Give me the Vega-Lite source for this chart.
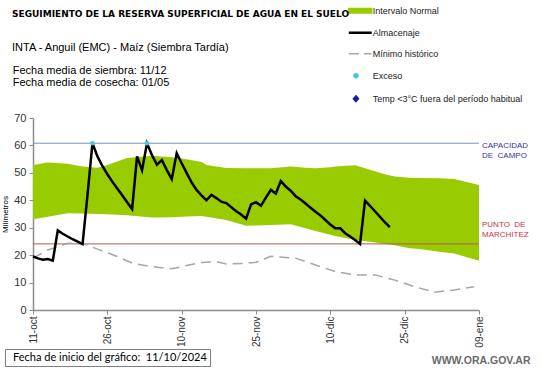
{
  "$schema": "https://vega.github.io/schema/vega-lite/v6.json",
  "width": 446,
  "height": 192,
  "autosize": {"type": "none"},
  "padding": {"left": 33, "top": 118, "right": 62, "bottom": 58},
  "background": "white",
  "config": {
    "view": {"stroke": null},
    "font": "Liberation Sans",
    "axisY": {
      "tickCount": 8,
      "labelOverlap": false,
      "labelFontSize": 11,
      "labelColor": "#333333",
      "labelPadding": 3,
      "domainColor": "#8c8c8c",
      "domainWidth": 1.5,
      "tickColor": "#8c8c8c",
      "tickSize": 4,
      "grid": false,
      "titleFontSize": 8,
      "titleFontWeight": "normal",
      "titleColor": "#000000",
      "titlePadding": 4
    }
  },
  "title": {
    "text": "SEGUIMIENTO DE LA RESERVA SUPERFICIAL DE AGUA EN EL SUELO",
    "subtitle": "INTA - Anguil (EMC) - Maíz (Siembra Tardía)",
    "anchor": "start",
    "frame": "group",
    "dx": -21,
    "offset": -47,
    "font": "DejaVu Sans",
    "fontSize": 9,
    "fontWeight": "bold",
    "color": "#000000",
    "subtitleFont": "Liberation Sans",
    "subtitleFontSize": 11,
    "subtitleColor": "#000000",
    "subtitlePadding": 23
  },
  "datasets": {
    "band": [
      {"date": "2024-10-11", "lower": 33.1, "upper": 52.9, "serie": "Intervalo Normal"},
      {"date": "2024-10-14", "lower": 34.0, "upper": 53.8, "serie": "Intervalo Normal"},
      {"date": "2024-10-18", "lower": 35.3, "upper": 53.3, "serie": "Intervalo Normal"},
      {"date": "2024-10-21", "lower": 35.2, "upper": 52.3, "serie": "Intervalo Normal"},
      {"date": "2024-10-24", "lower": 35.0, "upper": 51.9, "serie": "Intervalo Normal"},
      {"date": "2024-10-26", "lower": 34.9, "upper": 52.9, "serie": "Intervalo Normal"},
      {"date": "2024-10-30", "lower": 34.5, "upper": 55.4, "serie": "Intervalo Normal"},
      {"date": "2024-11-04", "lower": 33.7, "upper": 56.2, "serie": "Intervalo Normal"},
      {"date": "2024-11-08", "lower": 33.8, "upper": 55.7, "serie": "Intervalo Normal"},
      {"date": "2024-11-11", "lower": 34.1, "upper": 55.0, "serie": "Intervalo Normal"},
      {"date": "2024-11-14", "lower": 34.3, "upper": 54.0, "serie": "Intervalo Normal"},
      {"date": "2024-11-15", "lower": 34.0, "upper": 52.9, "serie": "Intervalo Normal"},
      {"date": "2024-11-19", "lower": 32.8, "upper": 51.8, "serie": "Intervalo Normal"},
      {"date": "2024-11-23", "lower": 30.7, "upper": 51.7, "serie": "Intervalo Normal"},
      {"date": "2024-11-28", "lower": 31.0, "upper": 51.7, "serie": "Intervalo Normal"},
      {"date": "2024-12-02", "lower": 31.3, "upper": 52.3, "serie": "Intervalo Normal"},
      {"date": "2024-12-05", "lower": 29.8, "upper": 51.9, "serie": "Intervalo Normal"},
      {"date": "2024-12-07", "lower": 28.8, "upper": 51.7, "serie": "Intervalo Normal"},
      {"date": "2024-12-10", "lower": 27.4, "upper": 52.0, "serie": "Intervalo Normal"},
      {"date": "2024-12-11", "lower": 27.0, "upper": 52.3, "serie": "Intervalo Normal"},
      {"date": "2024-12-15", "lower": 25.5, "upper": 52.8, "serie": "Intervalo Normal"},
      {"date": "2024-12-18", "lower": 24.9, "upper": 51.1, "serie": "Intervalo Normal"},
      {"date": "2024-12-21", "lower": 24.1, "upper": 49.5, "serie": "Intervalo Normal"},
      {"date": "2024-12-23", "lower": 23.6, "upper": 48.7, "serie": "Intervalo Normal"},
      {"date": "2024-12-26", "lower": 22.5, "upper": 48.2, "serie": "Intervalo Normal"},
      {"date": "2024-12-28", "lower": 22.2, "upper": 48.1, "serie": "Intervalo Normal"},
      {"date": "2025-01-01", "lower": 21.2, "upper": 48.0, "serie": "Intervalo Normal"},
      {"date": "2025-01-04", "lower": 20.6, "upper": 47.8, "serie": "Intervalo Normal"},
      {"date": "2025-01-09", "lower": 18.0, "upper": 45.6, "serie": "Intervalo Normal"}
    ],
    "alm": [
      {"date": "2024-10-11", "value": 19.5, "serie": "Almacenaje"},
      {"date": "2024-10-12", "value": 18.8, "serie": "Almacenaje"},
      {"date": "2024-10-13", "value": 18.3, "serie": "Almacenaje"},
      {"date": "2024-10-14", "value": 18.6, "serie": "Almacenaje"},
      {"date": "2024-10-15", "value": 18.0, "serie": "Almacenaje"},
      {"date": "2024-10-16", "value": 29.0, "serie": "Almacenaje"},
      {"date": "2024-10-17", "value": 27.8, "serie": "Almacenaje"},
      {"date": "2024-10-18", "value": 26.8, "serie": "Almacenaje"},
      {"date": "2024-10-19", "value": 25.8, "serie": "Almacenaje"},
      {"date": "2024-10-20", "value": 24.9, "serie": "Almacenaje"},
      {"date": "2024-10-21", "value": 24.0, "serie": "Almacenaje"},
      {"date": "2024-10-22", "value": 42.0, "serie": "Almacenaje"},
      {"date": "2024-10-23", "value": 60.8, "serie": "Almacenaje"},
      {"date": "2024-10-24", "value": 56.0, "serie": "Almacenaje"},
      {"date": "2024-10-25", "value": 52.5, "serie": "Almacenaje"},
      {"date": "2024-10-26", "value": 49.5, "serie": "Almacenaje"},
      {"date": "2024-10-27", "value": 46.8, "serie": "Almacenaje"},
      {"date": "2024-10-28", "value": 44.3, "serie": "Almacenaje"},
      {"date": "2024-10-29", "value": 41.8, "serie": "Almacenaje"},
      {"date": "2024-10-30", "value": 39.3, "serie": "Almacenaje"},
      {"date": "2024-10-31", "value": 36.8, "serie": "Almacenaje"},
      {"date": "2024-11-01", "value": 56.0, "serie": "Almacenaje"},
      {"date": "2024-11-02", "value": 51.0, "serie": "Almacenaje"},
      {"date": "2024-11-03", "value": 60.8, "serie": "Almacenaje"},
      {"date": "2024-11-04", "value": 56.5, "serie": "Almacenaje"},
      {"date": "2024-11-05", "value": 53.0, "serie": "Almacenaje"},
      {"date": "2024-11-06", "value": 54.7, "serie": "Almacenaje"},
      {"date": "2024-11-07", "value": 51.0, "serie": "Almacenaje"},
      {"date": "2024-11-08", "value": 47.7, "serie": "Almacenaje"},
      {"date": "2024-11-09", "value": 57.2, "serie": "Almacenaje"},
      {"date": "2024-11-10", "value": 53.5, "serie": "Almacenaje"},
      {"date": "2024-11-11", "value": 50.0, "serie": "Almacenaje"},
      {"date": "2024-11-12", "value": 46.5, "serie": "Almacenaje"},
      {"date": "2024-11-13", "value": 43.8, "serie": "Almacenaje"},
      {"date": "2024-11-14", "value": 41.8, "serie": "Almacenaje"},
      {"date": "2024-11-15", "value": 40.0, "serie": "Almacenaje"},
      {"date": "2024-11-16", "value": 42.0, "serie": "Almacenaje"},
      {"date": "2024-11-17", "value": 40.8, "serie": "Almacenaje"},
      {"date": "2024-11-18", "value": 39.5, "serie": "Almacenaje"},
      {"date": "2024-11-19", "value": 39.0, "serie": "Almacenaje"},
      {"date": "2024-11-20", "value": 37.5, "serie": "Almacenaje"},
      {"date": "2024-11-21", "value": 36.0, "serie": "Almacenaje"},
      {"date": "2024-11-22", "value": 34.8, "serie": "Almacenaje"},
      {"date": "2024-11-23", "value": 33.3, "serie": "Almacenaje"},
      {"date": "2024-11-24", "value": 38.5, "serie": "Almacenaje"},
      {"date": "2024-11-25", "value": 39.3, "serie": "Almacenaje"},
      {"date": "2024-11-26", "value": 38.0, "serie": "Almacenaje"},
      {"date": "2024-11-27", "value": 41.0, "serie": "Almacenaje"},
      {"date": "2024-11-28", "value": 43.8, "serie": "Almacenaje"},
      {"date": "2024-11-29", "value": 42.5, "serie": "Almacenaje"},
      {"date": "2024-11-30", "value": 47.0, "serie": "Almacenaje"},
      {"date": "2024-12-01", "value": 45.0, "serie": "Almacenaje"},
      {"date": "2024-12-02", "value": 43.5, "serie": "Almacenaje"},
      {"date": "2024-12-03", "value": 41.5, "serie": "Almacenaje"},
      {"date": "2024-12-04", "value": 40.3, "serie": "Almacenaje"},
      {"date": "2024-12-05", "value": 38.8, "serie": "Almacenaje"},
      {"date": "2024-12-06", "value": 37.3, "serie": "Almacenaje"},
      {"date": "2024-12-07", "value": 35.8, "serie": "Almacenaje"},
      {"date": "2024-12-08", "value": 34.5, "serie": "Almacenaje"},
      {"date": "2024-12-09", "value": 32.8, "serie": "Almacenaje"},
      {"date": "2024-12-10", "value": 31.2, "serie": "Almacenaje"},
      {"date": "2024-12-11", "value": 29.8, "serie": "Almacenaje"},
      {"date": "2024-12-12", "value": 29.8, "serie": "Almacenaje"},
      {"date": "2024-12-13", "value": 28.0, "serie": "Almacenaje"},
      {"date": "2024-12-14", "value": 26.8, "serie": "Almacenaje"},
      {"date": "2024-12-15", "value": 25.5, "serie": "Almacenaje"},
      {"date": "2024-12-16", "value": 24.1, "serie": "Almacenaje"},
      {"date": "2024-12-17", "value": 39.9, "serie": "Almacenaje"},
      {"date": "2024-12-18", "value": 38.0, "serie": "Almacenaje"},
      {"date": "2024-12-19", "value": 36.0, "serie": "Almacenaje"},
      {"date": "2024-12-20", "value": 34.0, "serie": "Almacenaje"},
      {"date": "2024-12-21", "value": 32.0, "serie": "Almacenaje"},
      {"date": "2024-12-22", "value": 30.2, "serie": "Almacenaje"}
    ],
    "minimo": [
      {"date": "2024-10-11", "value": 18.9, "serie": "Mínimo histórico"},
      {"date": "2024-10-14", "value": 21.9, "serie": "Mínimo histórico"},
      {"date": "2024-10-18", "value": 24.3, "serie": "Mínimo histórico"},
      {"date": "2024-10-21", "value": 24.3, "serie": "Mínimo histórico"},
      {"date": "2024-10-24", "value": 22.2, "serie": "Mínimo histórico"},
      {"date": "2024-10-28", "value": 19.5, "serie": "Mínimo histórico"},
      {"date": "2024-10-31", "value": 17.1, "serie": "Mínimo histórico"},
      {"date": "2024-11-04", "value": 15.8, "serie": "Mínimo histórico"},
      {"date": "2024-11-08", "value": 15.0, "serie": "Mínimo histórico"},
      {"date": "2024-11-11", "value": 16.2, "serie": "Mínimo histórico"},
      {"date": "2024-11-14", "value": 17.3, "serie": "Mínimo histórico"},
      {"date": "2024-11-17", "value": 17.6, "serie": "Mínimo histórico"},
      {"date": "2024-11-19", "value": 16.8, "serie": "Mínimo histórico"},
      {"date": "2024-11-23", "value": 17.0, "serie": "Mínimo histórico"},
      {"date": "2024-11-25", "value": 17.4, "serie": "Mínimo histórico"},
      {"date": "2024-11-28", "value": 19.6, "serie": "Mínimo histórico"},
      {"date": "2024-12-03", "value": 18.9, "serie": "Mínimo histórico"},
      {"date": "2024-12-07", "value": 16.4, "serie": "Mínimo histórico"},
      {"date": "2024-12-11", "value": 14.0, "serie": "Mínimo histórico"},
      {"date": "2024-12-15", "value": 12.8, "serie": "Mínimo histórico"},
      {"date": "2024-12-19", "value": 12.8, "serie": "Mínimo histórico"},
      {"date": "2024-12-23", "value": 10.9, "serie": "Mínimo histórico"},
      {"date": "2024-12-27", "value": 8.5, "serie": "Mínimo histórico"},
      {"date": "2024-12-31", "value": 6.5, "serie": "Mínimo histórico"},
      {"date": "2025-01-04", "value": 7.3, "serie": "Mínimo histórico"},
      {"date": "2025-01-08", "value": 8.5, "serie": "Mínimo histórico"}
    ],
    "exceso": [
      {"date": "2024-10-23", "value": 60.8, "serie": "Exceso"},
      {"date": "2024-11-03", "value": 60.8, "serie": "Exceso"}
    ],
    "fechas": [
      {"linea": "Fecha media de siembra: 11/12"},
      {"linea": "Fecha media de cosecha: 01/05"}
    ]
  },
  "layer": [
    {
      "data": {"name": "band"},
      "mark": {"type": "area"},
      "encoding": {
        "x": {
          "field": "date", "type": "temporal",
          "scale": {"type": "utc", "domain": [{"year": 2024, "month": 10, "date": 11, "utc": true}, {"year": 2025, "month": 1, "date": 9, "utc": true}]},
          "axis": {
            "values": [
              {"year": 2024, "month": 10, "date": 11, "utc": true},
              {"year": 2024, "month": 10, "date": 26, "utc": true},
              {"year": 2024, "month": 11, "date": 10, "utc": true},
              {"year": 2024, "month": 11, "date": 25, "utc": true},
              {"year": 2024, "month": 12, "date": 10, "utc": true},
              {"year": 2024, "month": 12, "date": 25, "utc": true},
              {"year": 2025, "month": 1, "date": 9, "utc": true}
            ],
            "labelExpr": "utcFormat(datum.value, '%d') + '-' + ['ene','feb','mar','abr','may','jun','jul','ago','sep','oct','nov','dic'][utcmonth(datum.value)]",
            "labelAngle": -90,
            "labelFontSize": 10,
            "labelColor": "#333333",
            "labelPadding": 2,
            "labelFlush": false,
            "labelOverlap": false,
            "domainColor": "#8c8c8c",
            "domainWidth": 1.5,
            "tickColor": "#8c8c8c",
            "tickSize": 4,
            "grid": false,
            "title": "WWW.ORA.GOV.AR",
            "titleX": 497,
            "titleY": 50,
            "titleAlign": "right",
            "titleBaseline": "middle",
            "titleFontSize": 10.5,
            "titleFontWeight": "bold",
            "titleColor": "#6a6a6a"
          }
        },
        "y": {
          "field": "lower", "type": "quantitative",
          "scale": {"domain": [0, 70], "nice": false},
          "axis": {"title": "Milímetros"}
        },
        "y2": {"field": "upper"},
        "color": {
          "field": "serie", "type": "nominal",
          "scale": {
            "domain": ["Intervalo Normal", "Almacenaje", "Mínimo histórico", "Exceso", "Temp <3°C fuera del período habitual"],
            "range": ["#99cc00", "#000000", "#a6a6a6", "#4cc6d6", "#1c1caa"]
          },
          "legend": {
            "orient": "none",
            "legendX": 322.75,
            "legendY": -111.75,
            "title": null,
            "padding": 0,
            "rowPadding": 11,
            "symbolSize": 132,
            "labelFont": "Liberation Sans",
            "labelFontSize": 9,
            "labelColor": "#222222",
            "labelOffset": 8,
            "labelLimit": 300,
            "encode": {
              "symbols": {
                "update": {
                  "shape": {"signal": "datum.value === 'Intervalo Normal' ? 'M-2,-0.4H2V0.4H-2Z' : (datum.value === 'Almacenaje' || datum.value === 'Mínimo histórico') ? 'M-2,0H2' : datum.value === 'Exceso' ? 'M-1.1,0A0.35,0.35 0 1,0 -0.4,0A0.35,0.35 0 1,0 -1.1,0Z' : 'M-0.75,-0.5L-0.3,0L-0.75,0.5L-1.2,0Z'"},
                  "fill": {"signal": "datum.value === 'Intervalo Normal' ? '#99cc00' : datum.value === 'Exceso' ? '#4cc6d6' : datum.value === 'Almacenaje' || datum.value === 'Mínimo histórico' ? 'transparent' : '#1c1caa'"},
                  "stroke": {"signal": "datum.value === 'Almacenaje' ? '#000000' : datum.value === 'Mínimo histórico' ? '#a6a6a6' : 'transparent'"},
                  "strokeWidth": {"signal": "datum.value === 'Almacenaje' ? 2.5 : 1.5"},
                  "strokeDash": {"signal": "datum.value === 'Mínimo histórico' ? [10, 5] : [1, 0]"},
                  "opacity": {"value": 1},
                  "size": {"value": 132}
                }
              }
            }
          }
        }
      }
    },
    {
      "data": {"values": [{"value": 60.8}]},
      "mark": {"type": "rule", "color": "#7891c4", "strokeWidth": 1},
      "encoding": {"y": {"field": "value", "type": "quantitative"}}
    },
    {
      "data": {"values": [{"value": 24.1}]},
      "mark": {"type": "rule", "color": "#b5545a", "strokeWidth": 1},
      "encoding": {"y": {"field": "value", "type": "quantitative"}}
    },
    {
      "data": {"name": "minimo"},
      "mark": {"type": "line", "strokeWidth": 1.5, "strokeDash": [10, 6]},
      "encoding": {
        "x": {"field": "date", "type": "temporal"},
        "y": {"field": "value", "type": "quantitative"},
        "color": {"field": "serie", "type": "nominal"}
      }
    },
    {
      "data": {"name": "alm"},
      "mark": {"type": "line", "strokeWidth": 2.5},
      "encoding": {
        "x": {"field": "date", "type": "temporal"},
        "y": {"field": "value", "type": "quantitative"},
        "color": {"field": "serie", "type": "nominal"}
      }
    },
    {
      "data": {"name": "exceso"},
      "mark": {"type": "point", "filled": true, "size": 22, "opacity": 1},
      "encoding": {
        "x": {"field": "date", "type": "temporal"},
        "y": {"field": "value", "type": "quantitative"},
        "color": {"field": "serie", "type": "nominal"}
      }
    },
    {
      "data": {"values": [{"date": "2025-01-09", "value": 60.8, "texto": ["CAPACIDAD", "DE\u00a0\u00a0CAMPO"]}]},
      "mark": {"type": "text", "align": "left", "baseline": "top", "dx": 3, "dy": -1, "fontSize": 8, "lineHeight": 10, "color": "#3434a4"},
      "encoding": {
        "x": {"field": "date", "type": "temporal"},
        "y": {"field": "value", "type": "quantitative"},
        "text": {"field": "texto"}
      }
    },
    {
      "data": {"values": [{"date": "2025-01-09", "value": 24.1, "texto": ["PUNTO\u00a0\u00a0DE", "MARCHITEZ"]}]},
      "mark": {"type": "text", "align": "left", "baseline": "top", "dx": 3, "dy": -23, "fontSize": 8, "lineHeight": 10, "color": "#cc3344"},
      "encoding": {
        "x": {"field": "date", "type": "temporal"},
        "y": {"field": "value", "type": "quantitative"},
        "text": {"field": "texto"}
      }
    },
    {
      "data": {"name": "fechas"},
      "mark": {"type": "point", "opacity": 0},
      "encoding": {
        "strokeDash": {
          "field": "linea", "type": "nominal",
          "scale": {"domain": ["Fecha media de siembra: 11/12", "Fecha media de cosecha: 01/05"]},
          "legend": {
            "orient": "none",
            "legendX": -25.3,
            "legendY": -53,
            "title": null,
            "padding": 0,
            "rowPadding": 0.3,
            "symbolSize": 0,
            "symbolOpacity": 0,
            "labelOffset": -6,
            "labelLimit": 400,
            "labelFont": "Liberation Sans",
            "labelFontSize": 11,
            "labelColor": "#000000",
            "encode": {"symbols": {"update": {"size": {"value": 0}, "opacity": {"value": 0}}}}
          }
        }
      }
    },
    {
      "data": {"values": [{"nota": "Fecha de inicio del gráfico:\u00a0\u00a011/10/2024\u00a0\u00a0"}]},
      "mark": {"type": "point", "opacity": 0},
      "encoding": {
        "shape": {
          "field": "nota", "type": "nominal",
          "legend": {
            "orient": "none",
            "legendX": -28,
            "legendY": 231,
            "title": null,
            "padding": 3,
            "strokeColor": "#808080",
            "fillColor": "#ffffff",
            "symbolSize": 0,
            "symbolStrokeWidth": 0,
            "symbolOpacity": 0,
            "labelOffset": -6,
            "labelLimit": 400,
            "labelFont": "Lato",
            "labelFontSize": 11,
            "labelColor": "#000000",
            "encode": {"symbols": {"update": {"size": {"value": 0}, "opacity": {"value": 0}}}}
          }
        }
      }
    }
  ]
}
